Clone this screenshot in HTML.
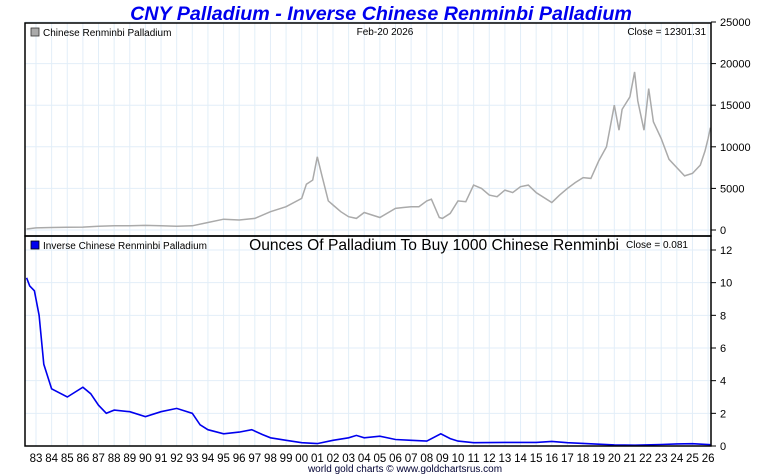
<!DOCTYPE html>
<html><head><meta charset="utf-8">
<style>
body{margin:0;background:#fff;width:760px;height:475px;overflow:hidden;font-family:"Liberation Sans",sans-serif}
svg{display:block}
</style></head><body>
<svg id="chart" width="760" height="475" xmlns="http://www.w3.org/2000/svg" font-family="Liberation Sans, sans-serif">
<text x="381" y="20" text-anchor="middle" font-size="19.7" font-weight="bold" font-style="italic" fill="#0000ee">CNY Palladium - Inverse Chinese Renminbi Palladium</text>
<g id="grid"></g>
<g id="series"></g>
<rect x="25" y="23" width="686" height="213" fill="none" stroke="#000" stroke-width="1.5"/>
<rect x="25" y="236" width="686" height="210" fill="none" stroke="#000" stroke-width="1.5"/>
<g id="axes" font-size="11" fill="#000"></g>
<rect x="31" y="28" width="8" height="8" fill="#aaa" stroke="#333" stroke-width="0.8"/>
<text x="43" y="36" font-size="10">Chinese Renminbi Palladium</text>
<text x="385" y="35" font-size="10" text-anchor="middle">Feb-20  2026</text>
<text x="706" y="35" font-size="10" text-anchor="end">Close = 12301.31</text>
<rect x="31" y="241" width="8" height="8" fill="#0000ee" stroke="#000" stroke-width="0.8"/>
<text x="43" y="249" font-size="10">Inverse Chinese Renminbi Palladium</text>
<text x="434" y="250" font-size="15.6" text-anchor="middle">Ounces Of Palladium To Buy 1000 Chinese Renminbi</text>
<text x="688" y="248" font-size="10" text-anchor="end">Close = 0.081</text>
<text x="405" y="472" font-size="10" text-anchor="middle" fill="#000033">world gold charts © www.goldchartsrus.com</text>
</svg>
<script>
const yearLabels=["83","84","85","86","87","88","89","90","91","92","93","94","95","96","97","98","99","00","01","02","03","04","05","06","07","08","09","10","11","12","13","14","15","16","17","18","19","20","21","22","23","24","25","26"];
const upperTicks=[0,5000,10000,15000,20000,25000];
const lowerTicks=[0,2,4,6,8,10,12];
const priceYears=[1982.4,1983,1984,1985,1986,1987,1988,1989,1990,1991,1992,1993,1994,1995,1996,1997,1998,1999,2000,2000.3,2000.7,2001.0,2001.3,2001.7,2002,2002.5,2003,2003.5,2004,2004.5,2005,2006,2006.5,2007,2007.5,2008,2008.3,2008.8,2009,2009.5,2010,2010.5,2011,2011.5,2012,2012.5,2013,2013.5,2014,2014.5,2015,2016,2016.5,2017,2017.5,2018,2018.5,2019,2019.5,2020,2020.3,2020.5,2021,2021.3,2021.5,2021.9,2022.2,2022.5,2023,2023.5,2024,2024.5,2025,2025.5,2025.8,2026.0,2026.15];
const priceValues=[120,250,300,330,350,450,500,520,550,500,450,500,900,1300,1200,1400,2200,2800,3800,5500,6000,8800,6500,3500,3000,2200,1600,1400,2100,1800,1500,2600,2700,2800,2800,3500,3700,1500,1400,2000,3500,3400,5400,5000,4200,4000,4800,4500,5200,5400,4500,3300,4200,5000,5700,6300,6200,8300,10000,15000,12000,14500,16000,19000,15500,12000,17000,13000,11000,8500,7500,6500,6800,7800,9500,11000,12300];
const invYears=[1982.4,1982.6,1982.9,1983.2,1983.5,1984,1985,1986,1986.5,1987,1987.5,1988,1989,1990,1991,1992,1993,1993.5,1994,1995,1996,1996.8,1997.5,1998,1999,2000,2001,2002,2003,2003.5,2004,2005,2006,2007,2008,2008.9,2009.5,2010,2011,2013,2015,2016,2017,2018,2019,2020,2021.3,2022,2023,2024,2025,2026.15];
const invValues=[10.3,9.8,9.5,8,5,3.5,3.0,3.6,3.2,2.5,2.0,2.2,2.1,1.8,2.1,2.3,2.0,1.3,1.0,0.75,0.85,1.0,0.7,0.5,0.35,0.2,0.15,0.35,0.5,0.65,0.5,0.6,0.4,0.35,0.3,0.75,0.45,0.3,0.2,0.22,0.22,0.28,0.2,0.16,0.11,0.07,0.05,0.07,0.09,0.13,0.14,0.081];
const NS="http://www.w3.org/2000/svg";
const xs=y=>36+(y-1983)*15.63;
const yu=v=>230-v*(208/25000);
const yl=v=>446-v*(196/12);
function mk(tag,attrs,parent){const e=document.createElementNS(NS,tag);for(const k in attrs)e.setAttribute(k,attrs[k]);parent.appendChild(e);return e;}
const grid=document.getElementById('grid'),axes=document.getElementById('axes'),series=document.getElementById('series');
yearLabels.forEach((lab,i)=>{const x=xs(1983+i);
 const g=mk('line',{x1:x,x2:x,y1:23,y2:446,stroke:'#e2eef8','stroke-width':1},grid);
 
 const t=mk('text',{x:x,y:462,'text-anchor':'middle','font-size':11.5},axes);t.textContent=lab;
 
});
upperTicks.forEach(v=>{const y=yu(v);
 const g=mk('line',{x1:25,x2:711,y1:y,y2:y,stroke:'#e2eef8'},grid);
 
 mk('line',{x1:711,x2:716,y1:y,y2:y,stroke:'#000'},axes);
 const t=mk('text',{x:720,y:y+4},axes);t.textContent=v;
 
});
lowerTicks.forEach(v=>{const y=yl(v);
 const g=mk('line',{x1:25,x2:711,y1:y,y2:y,stroke:'#e2eef8'},grid);
 
 mk('line',{x1:711,x2:716,y1:y,y2:y,stroke:'#000'},axes);
 const t=mk('text',{x:720,y:y+4},axes);t.textContent=v;
 
});
const p1=mk('polyline',{points:priceYears.map((y,i)=>xs(y).toFixed(1)+','+yu(priceValues[i]).toFixed(1)).join(' '),fill:'none',stroke:'#aaaaaa','stroke-width':1.5},series);

const p2=mk('polyline',{points:invYears.map((y,i)=>xs(y).toFixed(1)+','+yl(invValues[i]).toFixed(1)).join(' '),fill:'none',stroke:'#0000ee','stroke-width':1.6},series);

</script>
</body></html>
